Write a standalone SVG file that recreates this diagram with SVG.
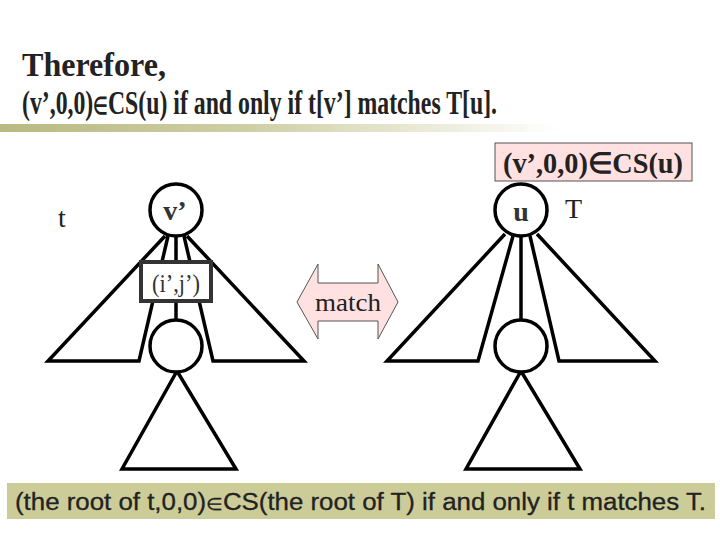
<svg xmlns="http://www.w3.org/2000/svg" width="720" height="540" viewBox="0 0 720 540">
<defs>
<linearGradient id="bar" x1="0" y1="0" x2="1" y2="0">
<stop offset="0" stop-color="#b9b982"/>
<stop offset="0.45" stop-color="#cfcfa6"/>
<stop offset="1" stop-color="#ffffff"/>
</linearGradient>
<style>
.ln{fill:none;stroke:#000;stroke-width:3.5;stroke-linejoin:miter}
.nd{fill:#fff;stroke:#000;stroke-width:3.5}
.serif{font-family:"Liberation Serif","Times New Roman",serif}
.sans{font-family:"Liberation Sans",Arial,sans-serif}
.pink{fill:#ffe1e1;stroke:#555;stroke-width:1}
</style>
</defs>
<rect width="720" height="540" fill="#fff"/>
<g id="title">
<text class="serif" x="22" y="76" font-size="33" font-weight="bold" fill="#222" textLength="144" lengthAdjust="spacingAndGlyphs">Therefore,</text>
<text class="serif" x="22" y="114" font-size="34" font-weight="bold" fill="#222" textLength="475" lengthAdjust="spacingAndGlyphs">(v’,0,0)<tspan font-size="24">∈</tspan>CS(u) if and only if t[v’] matches T[u].</text>
<rect x="0" y="124" width="560" height="8" fill="url(#bar)"/>
</g>
<g id="connectors">
<polyline class="ln" points="165,236 48,361 139,361 168,236"/>
<polyline class="ln" points="184,236 213,361 304,361 187,236"/>
<line class="ln" x1="176" y1="236" x2="176" y2="320"/>
<polygon class="ln" points="177,371 122,469 236,469"/>
<polyline class="ln" points="505,234 387,361 478,361 513,236"/>
<polyline class="ln" points="530,236 559,361 655,361 537,234"/>
<line class="ln" x1="521" y1="236" x2="521" y2="320"/>
<polygon class="ln" points="521,371 466,469 580,469"/>
</g>
<g id="t-label"><text class="serif" x="58" y="227" font-size="28" fill="#222">t</text></g>
<g id="node-v"><circle class="nd" cx="176" cy="210" r="26"/><text class="serif" x="175" y="220" font-size="28" font-weight="bold" fill="#333" text-anchor="middle">v’</text></g>
<g id="node-ij"><rect x="141" y="262" width="70" height="39" fill="#fff" stroke="#333" stroke-width="4"/><text class="serif" x="176" y="292" font-size="25" fill="#333" text-anchor="middle" textLength="48" lengthAdjust="spacingAndGlyphs">(i’,j’)</text></g>
<g id="node-left-child"><circle class="nd" cx="176" cy="346" r="26"/></g>
<g id="node-u"><circle class="nd" cx="521" cy="210" r="26"/><text class="serif" x="521" y="221" font-size="28" font-weight="bold" fill="#333" text-anchor="middle">u</text></g>
<g id="T-label"><text class="serif" x="565" y="218" font-size="28" fill="#222">T</text></g>
<g id="node-right-child"><circle class="nd" cx="521" cy="346" r="26"/></g>
<g id="cs-box"><rect class="pink" x="495" y="143" width="197" height="38"/><text class="serif" x="593" y="173" font-size="29" font-weight="bold" fill="#222" text-anchor="middle" textLength="180" lengthAdjust="spacingAndGlyphs">(v’,0,0)∈CS(u)</text></g>
<g id="match-arrow"><polygon class="pink" points="297,302 318,264 318,283 378,283 378,264 398,302 378,339 378,321 318,321 318,339"/><text class="serif" x="348" y="311" font-size="26" fill="#222" text-anchor="middle" textLength="66" lengthAdjust="spacingAndGlyphs">match</text></g>
<g id="banner"><rect x="7" y="483" width="708" height="36" fill="#cccc99"/><text class="sans" x="15" y="510" font-size="23" fill="#222" stroke="#222" stroke-width="0.3" textLength="691" lengthAdjust="spacingAndGlyphs">(the root of t,0,0)<tspan font-size="17">∈</tspan>CS(the root of T) if and only if t matches T.</text></g>
</svg>
